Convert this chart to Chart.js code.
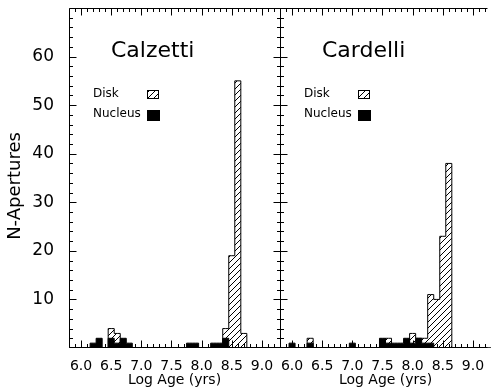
<!DOCTYPE html>
<html>
<head>
<meta charset="utf-8">
<title>N-Apertures vs Log Age</title>
<script src="https://cdn.jsdelivr.net/npm/chart.js@4.4.0/dist/chart.umd.min.js"></script>
<style>
  html, body { margin: 0; padding: 0; background: #fff; }
  #wrap { position: relative; width: 491px; height: 389px; overflow: hidden; }
  #wrap canvas { position: absolute; left: 0; top: 0; }
</style>
</head>
<body>
<div id="wrap">
  <canvas id="calzetti" width="491" height="389"></canvas>
  <canvas id="cardelli" width="491" height="389"></canvas>
</div>
<script>
// Log age bin centres (0.1 dex bins)
const ageBins = [5.8, 5.9, 6.0, 6.1, 6.2, 6.3, 6.4, 6.5, 6.6, 6.7, 6.8, 6.9,
                 7.0, 7.1, 7.2, 7.3, 7.4, 7.5, 7.6, 7.7, 7.8, 7.9, 8.0, 8.1,
                 8.2, 8.3, 8.4, 8.5, 8.6, 8.7, 8.8, 8.9, 9.0, 9.1, 9.2, 9.3];

// Calzetti extinction law
const calzettiDisk =    [0, 0, 0, 0, 0, 0, 0, 4, 3, 0, 0, 0,
                         0, 0, 0, 0, 0, 0, 0, 0, 0, 0, 0, 0,
                         0, 0, 4, 19, 55, 3, 0, 0, 0, 0, 0, 0];
const calzettiNucleus = [0, 0, 0, 0, 1, 2, 0, 2, 1, 2, 1, 0,
                         0, 0, 0, 0, 0, 0, 0, 0, 1, 1, 0, 0,
                         1, 1, 2, 0, 0, 0, 0, 0, 0, 0, 0, 0];

// Cardelli extinction law
const cardelliDisk =    [0, 0, 0, 0, 0, 2, 0, 0, 0, 0, 0, 0,
                         0, 0, 0, 0, 0, 0, 2, 0, 0, 0, 3, 2,
                         2, 11, 10, 23, 38, 0, 0, 0, 0, 0, 0, 0];
const cardelliNucleus = [0, 0, 1, 0, 0, 1, 0, 0, 0, 0, 0, 0,
                         1, 0, 0, 0, 0, 2, 1, 1, 1, 2, 1, 2,
                         1, 1, 0, 0, 0, 0, 0, 0, 0, 0, 0, 0];

const xTicks = [6.0, 6.5, 7.0, 7.5, 8.0, 8.5, 9.0];
const yTicks = [10, 20, 30, 40, 50, 60];

const FONT = "'DejaVu Sans', sans-serif";

// diagonal "/" hatch used for the disk histogram
function makeHatch() {
    const c = document.createElement('canvas');
    c.width = 6; c.height = 6;
    const g = c.getContext('2d');
    g.strokeStyle = '#000';
    g.lineWidth = 1;
    g.beginPath();
    g.moveTo(0, 6); g.lineTo(6, 0);
    g.moveTo(-1, 1); g.lineTo(1, -1);
    g.moveTo(5, 7); g.lineTo(7, 5);
    g.stroke();
    return g.createPattern(c, 'repeat');
}
const hatch = makeHatch();

// IDL-style box with inward major/minor ticks, plus panel title and key
const framePlugin = {
    id: 'frame',
    afterDatasetsDraw(chart, args, opts) {
        const { ctx, chartArea: a, scales: { x, y } } = chart;
        const L = Math.round(a.left) + 0.5, R = Math.round(a.right) + 0.5;
        const T = Math.round(a.top) + 0.5, B = Math.round(a.bottom) - 0.5;
        const E = opts.rightAxis ? R : R - 4;   // right panel runs off the page
        ctx.save();
        ctx.strokeStyle = '#000';
        ctx.lineWidth = 1;
        ctx.beginPath();
        ctx.moveTo(L, T); ctx.lineTo(E, T);
        ctx.moveTo(L, B); ctx.lineTo(E, B);
        ctx.moveTo(L, T); ctx.lineTo(L, B);
        if (opts.rightAxis) { ctx.moveTo(R, T); ctx.lineTo(R, B); }
        for (let k = 58; k <= 93; k++) {
            const px = Math.round(x.getPixelForValue(k / 10)) + 0.5;
            if (px > E) continue;
            const len = k % 5 === 0 ? 7 : 3.5;
            ctx.moveTo(px, B); ctx.lineTo(px, B - len);
            ctx.moveTo(px, T); ctx.lineTo(px, T + len);
        }
        for (let v = 2; v < 70; v += 2) {
            const py = Math.round(y.getPixelForValue(v)) + 0.5;
            const len = v % 10 === 0 ? 7 : 3.5;
            ctx.moveTo(L, py); ctx.lineTo(L + len, py);
            if (opts.rightAxis) { ctx.moveTo(R, py); ctx.lineTo(R - len, py); }
        }
        ctx.stroke();

        // panel title
        ctx.fillStyle = '#000';
        ctx.textBaseline = 'alphabetic';
        ctx.font = '22px ' + FONT;
        ctx.fillText(opts.title, a.left + 42, 57);

        // key
        ctx.font = '12px ' + FONT;
        ctx.fillText('Disk', a.left + 24, 97);
        ctx.fillText('Nucleus', a.left + 24, 117);
        ctx.fillStyle = hatch;
        ctx.fillRect(a.left + 78, 90, 12, 9);
        ctx.strokeRect(a.left + 78.5, 90.5, 11, 8);
        ctx.fillStyle = '#000';
        ctx.fillRect(a.left + 78, 110, 13, 11);

        // y axis title (left panel only)
        if (opts.rightAxis) {
            ctx.translate(15, 186);
            ctx.rotate(-Math.PI / 2);
            ctx.textAlign = 'center';
            ctx.textBaseline = 'middle';
            ctx.font = '18px ' + FONT;
            ctx.fillText('N-Apertures', 0, 0);
        }
        ctx.restore();
    }
};

function toPoints(counts) {
    return ageBins.map((a, i) => ({ x: a, y: counts[i] }));
}

function initPanel(canvasId, title, disk, nucleus, isLeft) {
    const ctx = document.getElementById(canvasId).getContext('2d');

    new Chart(ctx, {
        type: 'line',
        data: {
            datasets: [{
                label: 'Nucleus',
                data: toPoints(nucleus),
                stepped: 'middle',
                borderColor: '#000',
                borderWidth: 1,
                backgroundColor: '#000',
                fill: 'origin',
                pointRadius: 0
            }, {
                label: 'Disk',
                data: toPoints(disk),
                stepped: 'middle',
                borderColor: '#000',
                borderWidth: 1,
                backgroundColor: hatch,
                fill: 'origin',
                pointRadius: 0
            }]
        },
        options: {
            responsive: false,
            animation: false,
            layout: {
                padding: isLeft ? { top: 8, right: 211, left: 0, bottom: 0 }
                                : { top: 8, right: 0, left: 280, bottom: 0 }
            },
            scales: {
                x: {
                    type: 'linear',
                    min: 5.8,
                    max: 9.3,
                    afterBuildTicks: (scale) => { scale.ticks = xTicks.map(v => ({ value: v })); },
                    afterFit: (scale) => {
                        scale.height = 41;
                        scale.paddingLeft = 0;
                        scale.paddingRight = 0;
                    },
                    grid: { display: false },
                    border: { display: false },
                    ticks: {
                        color: '#000',
                        padding: 2,
                        maxRotation: 0,
                        autoSkip: false,
                        font: { family: FONT, size: 14 },
                        callback: (v) => Number(v).toFixed(1)
                    },
                    title: {
                        display: true,
                        text: 'Log Age (yrs)',
                        color: '#000',
                        font: { family: FONT, size: 14 },
                        padding: { top: 0, bottom: 0 }
                    }
                },
                y: {
                    display: isLeft,
                    min: 0,
                    max: 70,
                    afterBuildTicks: (scale) => { scale.ticks = yTicks.map(v => ({ value: v })); },
                    afterFit: (scale) => {
                        scale.width = isLeft ? 69 : 0;
                        scale.paddingTop = 0;
                        scale.paddingBottom = 0;
                    },
                    grid: { display: false },
                    border: { display: false },
                    ticks: {
                        color: '#000',
                        padding: 7,
                        font: { family: FONT, size: 17 }
                    },
                    title: { display: false }
                }
            },
            plugins: {
                legend: { display: false },
                tooltip: { enabled: false },
                frame: { title: title, rightAxis: isLeft }
            }
        },
        plugins: [framePlugin]
    });
}

initPanel('calzetti', 'Calzetti', calzettiDisk, calzettiNucleus, true);
initPanel('cardelli', 'Cardelli', cardelliDisk, cardelliNucleus, false);
</script>
</body>
</html>
